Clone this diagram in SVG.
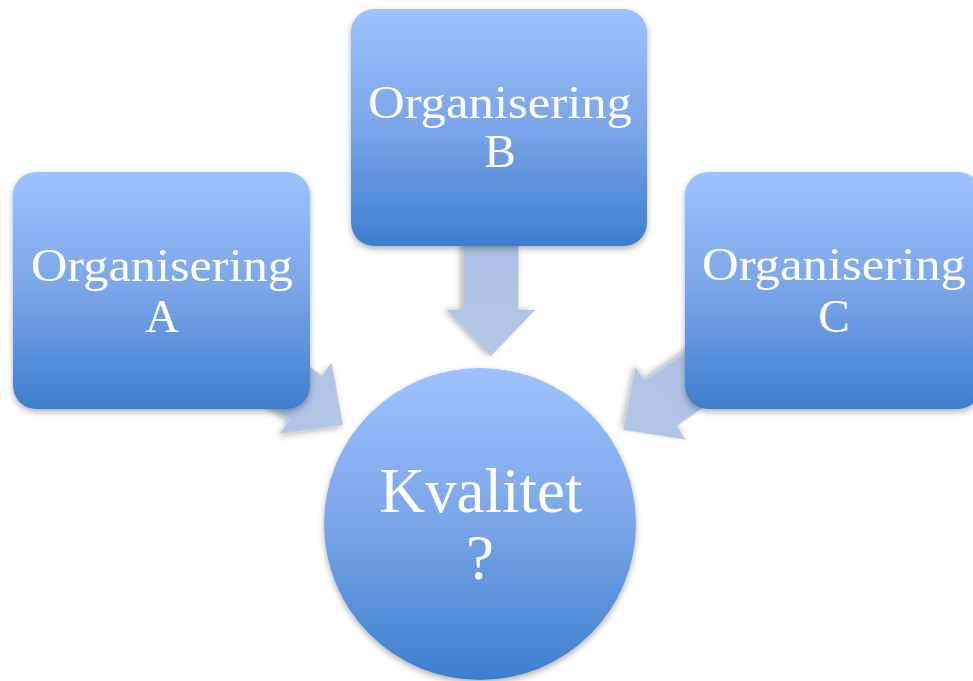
<svg xmlns="http://www.w3.org/2000/svg" width="973" height="681" viewBox="0 0 973 681">
  <defs>
    <linearGradient id="boxFill" x1="0" y1="0" x2="0" y2="1">
      <stop offset="0" stop-color="#9dc2ff"/>
      <stop offset="0.5" stop-color="#7aa5e8"/>
      <stop offset="1" stop-color="#3d7ecd"/>
    </linearGradient>
    <linearGradient id="arrowFill" x1="0" y1="0" x2="1" y2="0">
      <stop offset="0" stop-color="#a9bfe4"/>
      <stop offset="1" stop-color="#b2c6e7"/>
    </linearGradient>
    <filter id="shadow" x="-20%" y="-20%" width="140%" height="140%">
      <feDropShadow dx="0" dy="3" stdDeviation="3" flood-color="#000" flood-opacity="0.3"/>
    </filter>
    <!-- block arrow pointing along +x, tip at the origin -->
    <path id="blockArrow" d="M0,0 L-46,-44 L-46,-27.5 L-135,-27.5 L-135,27.5 L-46,27.5 L-46,44 Z"/>
  </defs>
  <style>
    .node { fill: url(#boxFill); filter: url(#shadow); }
    .arrow { fill: url(#arrowFill); filter: url(#shadow); }
    .label { font-family: "Liberation Serif", "Times New Roman", serif; fill: #ffffff; text-anchor: middle; }
    .small { font-size: 47px; }
    .big { font-size: 63px; }
  </style>

  <g id="connectors">
    <use href="#blockArrow" class="arrow" transform="translate(343,425) rotate(36)"/>
    <use href="#blockArrow" class="arrow" transform="translate(491,356) rotate(90)"/>
    <use href="#blockArrow" class="arrow" transform="translate(623,430) rotate(145)"/>
  </g>

  <g id="node-a">
    <rect class="node" x="13" y="172" width="297" height="237" rx="23" ry="23"/>
    <text class="label small" x="162" y="281" textLength="262" lengthAdjust="spacingAndGlyphs">Organisering</text>
    <text class="label small" x="162" y="332">A</text>
  </g>

  <g id="node-b">
    <rect class="node" x="351" y="9" width="296" height="237" rx="23" ry="23"/>
    <text class="label small" x="500" y="118" textLength="264" lengthAdjust="spacingAndGlyphs">Organisering</text>
    <text class="label small" x="500" y="167">B</text>
  </g>

  <g id="node-c">
    <rect class="node" x="685" y="172" width="296" height="237" rx="23" ry="23"/>
    <text class="label small" x="834" y="280" textLength="264" lengthAdjust="spacingAndGlyphs">Organisering</text>
    <text class="label small" x="834" y="332">C</text>
  </g>

  <g id="node-kvalitet">
    <circle class="node" cx="480" cy="524" r="156"/>
    <text class="label big" x="481" y="512">Kvalitet</text>
    <text class="label big" x="480" y="579">?</text>
  </g>
</svg>
